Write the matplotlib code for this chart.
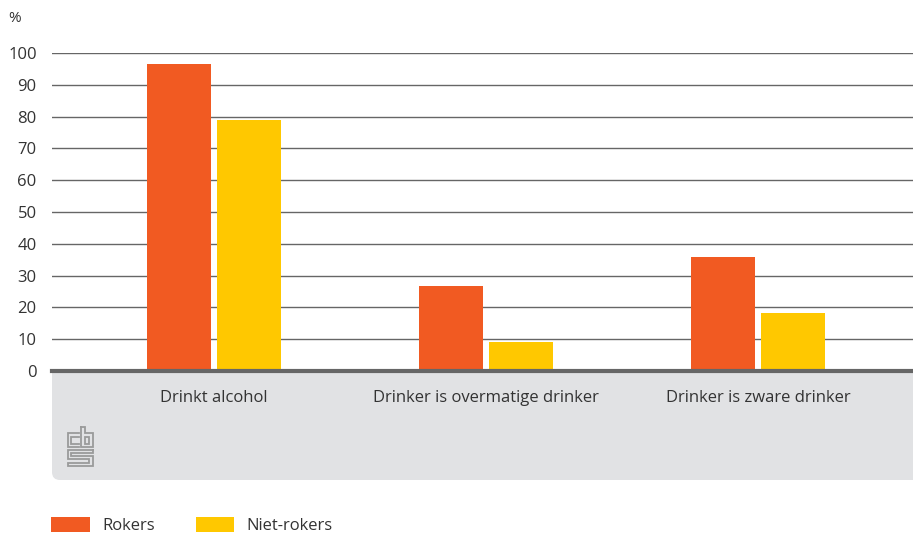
import matplotlib
matplotlib.use("Agg")
import matplotlib.pyplot as plt
from matplotlib.patches import FancyBboxPatch, Rectangle
import numpy as np

categories = ["Drinkt alcohol", "Drinker is overmatige drinker", "Drinker is zware drinker"]
rokers = [96.5, 26.7, 35.7]
niet_rokers = [79.0, 9.1, 18.3]
series_names = ["Rokers", "Niet-rokers"]
yticks = [0, 10, 20, 30, 40, 50, 60, 70, 80, 90, 100]

ORANGE = "#F15A22"
YELLOW = "#FFC800"
GRID = "#666666"
TEXT = "#333333"
BAND = "#E1E2E4"

plt.rcParams['font.family'] = ['Open Sans', 'DejaVu Sans']

W, H = 913, 535
fig = plt.figure(figsize=(W / 100, H / 100), dpi=100)

# overlay axes in pixel coordinates for background decorations
bg = fig.add_axes([0, 0, 1, 1], zorder=0)
bg.set_xlim(0, W)
bg.set_ylim(H, 0)
bg.axis("off")

# grey band beneath the axis (rounded bottom-left corner)
r = 8
band = FancyBboxPatch((52 + r, 370 + r), W - 52 - r + 30, 110 - 2 * r,
                      boxstyle="round,pad=%d" % r, fc=BAND, ec="none")
bg.add_patch(band)
bg.add_patch(Rectangle((52, 370), W - 52, 20, fc=BAND, ec="none"))
bg.add_patch(Rectangle((W - 20, 370), 20, 110, fc=BAND, ec="none"))
bg.add_patch(Rectangle((52, 371), W - 52, 1.5, fc="#bbbbbb", ec="none"))

# cbs logo (approximate outline)
lc = "#9a9a9a"
lw = 1.3
def poly(pts):
    xs, ys = zip(*pts)
    bg.plot(xs, ys, color=lc, lw=lw, solid_joinstyle="miter")
# c
poly([(79, 433), (67.5, 433), (67.5, 447), (79, 447)])
poly([(79, 436.5), (71, 436.5), (71, 443.5), (79, 443.5)])
# b
poly([(81, 427), (84.5, 427), (84.5, 433), (92.5, 433), (92.5, 447), (81, 447), (81, 427)])
bg.add_patch(Rectangle((84.5, 436.5), 4.5, 7, fill=False, ec=lc, lw=lw))
# s
poly([(92.5, 449.5), (67.5, 449.5), (67.5, 459), (89, 459), (89, 462.5), (67.5, 462.5), (67.5, 466),
      (92.5, 466), (92.5, 455.5), (71, 455.5), (71, 453), (92.5, 453), (92.5, 449.5)])

# main axes
left = 52 / W
bottom = 1 - 371 / H
top = 1 - 53 / H
ax = fig.add_axes([left, bottom, 1 - left, top - bottom], zorder=1)
ax.patch.set_alpha(0)

x = np.arange(len(categories))
bw = 0.236
off = 0.129
ax.bar(x - off, rokers, bw, color=ORANGE, label=series_names[0], zorder=3)
ax.bar(x + off, niet_rokers, bw, color=YELLOW, label=series_names[1], zorder=3)

ax.set_xlim(-0.596, 2.57)
ax.set_ylim(0, 100)
ax.set_yticks(yticks)
ax.set_yticklabels([str(v) for v in yticks], fontsize=12, color=TEXT)
ax.yaxis.grid(True, color=GRID, lw=1.0, zorder=0)
ax.set_axisbelow(True)
ax.tick_params(axis="y", length=0, pad=11)
ax.tick_params(axis="x", length=0, pad=14)
ax.set_xticks(x)
ax.set_xticklabels(categories, fontsize=12, color=TEXT)
for s in ["top", "right", "left"]:
    ax.spines[s].set_visible(False)
ax.spines["bottom"].set_color(GRID)
ax.spines["bottom"].set_linewidth(3)
ax.spines["bottom"].set_zorder(4)

fig.text(8 / W, 1 - 18 / H, "%", fontsize=11, color=TEXT, va="center", ha="left")

# legend
leg = fig.legend(loc="lower left", bbox_to_anchor=(52 / W - 0.008, -0.011), ncol=2,
                 frameon=False, fontsize=12, handlelength=2.3, handleheight=0.95,
                 handletextpad=0.75, columnspacing=2.45, borderaxespad=0.0,
                 labelcolor=TEXT)

fig.savefig("out.png", dpi=100)
